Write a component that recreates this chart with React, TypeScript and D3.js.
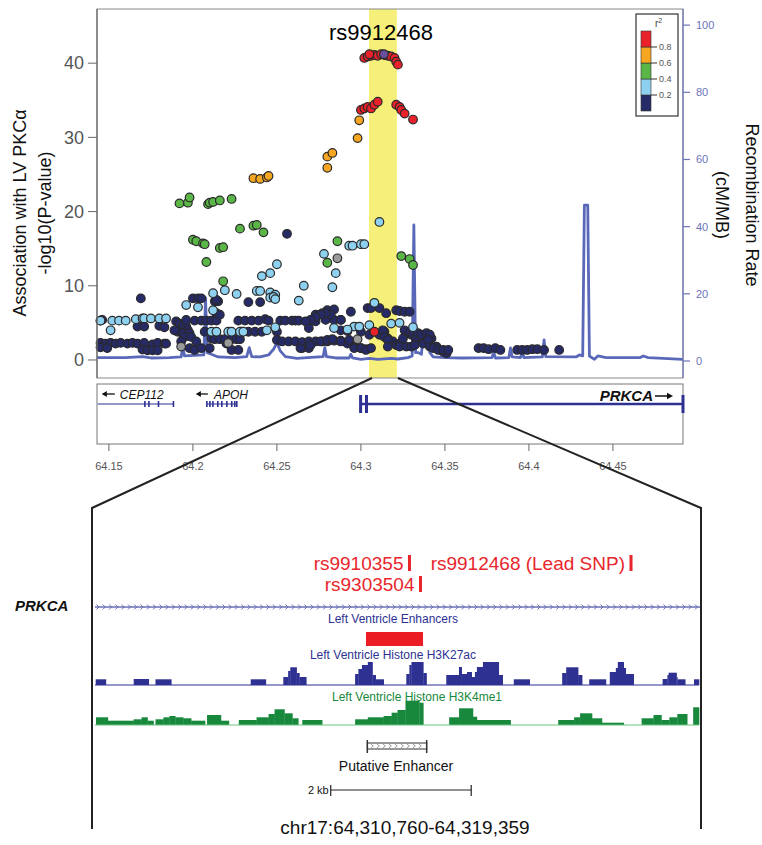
import * as d3 from "d3";

const FONT = "'Liberation Sans', Arial, Helvetica, sans-serif";

// ---- top panel: association results, grouped by LD (r2) bin  [position Mb, -log10 P]
const navySnps: [number, number][] = [
  [64.145, 5.3], [64.146, 5.4], [64.167, 4.5], [64.171, 4.5], [64.18, 4.6], [64.183, 4.4],
  [64.145, 2.3], [64.148, 2.2], [64.151, 2.3], [64.154, 2.2], [64.157, 2.3], [64.161, 2.2],
  [64.164, 2.3], [64.167, 2.2], [64.171, 2.3], [64.176, 2.1], [64.179, 2.3], [64.183, 2.2],
  [64.145, 1.7], [64.149, 1.6], [64.17, 1.4], [64.173, 1.3], [64.176, 1.3], [64.179, 1.3],
  [64.184, 2.2], [64.169, 8.3],
  [64.19, 5.2], [64.192, 4.9], [64.194, 4.7], [64.196, 4.5], [64.197, 4.0], [64.191, 3.8],
  [64.194, 3.6], [64.198, 3.6], [64.189, 4.0], [64.195, 3.1], [64.199, 3.1], [64.193, 2.5],
  [64.198, 1.6], [64.201, 1.35], [64.202, 2.5], [64.196, 5.4],
  [64.201, 5.3], [64.205, 5.3], [64.208, 5.3], [64.211, 5.3], [64.214, 5.3], [64.207, 3.8],
  [64.205, 1.6], [64.21, 1.6], [64.211, 2.9], [64.213, 2.8], [64.216, 2.8], [64.214, 6.3],
  [64.216, 6.1], [64.213, 7.9], [64.215, 7.9], [64.214, 8.1], [64.2, 8.3], [64.203, 8.3],
  [64.205, 8.3], [64.22, 2.2], [64.223, 1.35], [64.227, 1.35], [64.219, 2.8], [64.223, 2.8],
  [64.226, 2.8], [64.228, 2.8],
  [64.227, 5.3], [64.231, 5.3], [64.235, 5.3], [64.239, 5.3], [64.243, 5.5], [64.229, 3.8],
  [64.233, 3.8], [64.237, 3.8], [64.241, 3.8], [64.233, 7.8], [64.24, 7.8], [64.245, 5.3],
  [64.25, 3.8], [64.252, 5.3], [64.255, 5.3], [64.259, 5.3], [64.261, 5.3], [64.263, 5.3],
  [64.25, 2.7], [64.253, 2.5], [64.257, 2.5], [64.261, 2.5], [64.265, 1.6], [64.269, 1.6],
  [64.256, 17.0],
  [64.269, 4.3], [64.273, 5.2], [64.279, 5.4], [64.284, 5.4], [64.288, 5.4], [64.273, 6.1],
  [64.277, 6.3], [64.28, 6.7], [64.284, 6.8], [64.265, 2.4], [64.269, 2.5], [64.273, 2.5],
  [64.277, 2.5], [64.28, 2.5], [64.284, 2.6], [64.288, 2.6], [64.288, 4.0], [64.294, 6.5],
  [64.292, 2.2], [64.296, 1.8], [64.3, 1.6], [64.303, 1.45], [64.292, 3.9], [64.3, 3.8],
  [64.304, 7.0], [64.306, 7.0], [64.311, 7.0], [64.315, 6.3], [64.321, 6.7], [64.323, 6.6],
  [64.326, 6.5], [64.329, 6.5],
  [64.288, 5.4], [64.282, 6.1], [64.279, 6.3], [64.276, 6.1], [64.273, 5.8], [64.27, 5.4],
  [64.267, 5.2],
  [64.305, 3.4], [64.311, 3.4], [64.314, 3.8], [64.316, 2.9], [64.319, 2.5], [64.321, 2.0],
  [64.323, 2.2], [64.327, 3.6], [64.33, 3.4], [64.333, 2.7], [64.336, 3.1], [64.339, 2.5],
  [64.342, 2.9], [64.345, 1.8], [64.349, 1.1], [64.351, 0.9],
  [64.264, 1.6], [64.27, 2.0], [64.276, 2.5], [64.28, 2.7], [64.283, 2.8], [64.288, 2.5],
  [64.293, 2.7], [64.296, 1.6], [64.3, 1.6], [64.303, 1.35], [64.306, 1.6],
  [64.313, 4.0], [64.314, 3.1], [64.316, 2.7], [64.316, 1.8], [64.326, 4.0], [64.329, 3.8],
  [64.331, 3.4], [64.333, 3.1], [64.334, 3.6], [64.336, 3.4], [64.339, 3.6], [64.341, 3.4],
  [64.325, 2.9], [64.323, 1.8], [64.327, 1.8], [64.33, 1.8], [64.332, 2.0], [64.337, 2.2],
  [64.34, 2.7], [64.341, 1.8], [64.343, 1.6], [64.346, 1.35], [64.349, 1.35], [64.352, 1.35],
  [64.37, 1.6], [64.373, 1.6], [64.376, 1.45], [64.38, 1.6], [64.383, 1.35], [64.393, 1.35],
  [64.396, 1.35], [64.399, 1.35], [64.402, 1.45], [64.405, 1.45], [64.409, 1.35], [64.418, 1.35],
];

const lightBlueSnps: [number, number][] = [
  [64.311, 18.6], [64.293, 15.4], [64.295, 15.4], [64.3, 15.6], [64.302, 15.6],
  [64.278, 14.3], [64.285, 11.7], [64.283, 9.8], [64.25, 12.9], [64.246, 11.7], [64.241, 11.3],
  [64.266, 10.0], [64.263, 8.0], [64.238, 9.3], [64.24, 9.3], [64.246, 9.1], [64.249, 8.8],
  [64.246, 8.4], [64.248, 8.5], [64.249, 8.2], [64.226, 8.9], [64.219, 9.4], [64.212, 9.0],
  [64.196, 7.4], [64.203, 7.1], [64.212, 6.7],
  [64.145, 5.3], [64.152, 5.3], [64.156, 5.3], [64.16, 5.3], [64.166, 5.5], [64.17, 5.6],
  [64.171, 5.6], [64.175, 5.6], [64.18, 5.6], [64.184, 5.6], [64.151, 4.0],
  [64.308, 7.7], [64.296, 4.5], [64.299, 4.5], [64.305, 4.7], [64.318, 4.9], [64.323, 5.0],
  [64.331, 4.4], [64.284, 4.3], [64.211, 3.8], [64.214, 3.8], [64.221, 3.8], [64.223, 3.8],
  [64.228, 3.8], [64.23, 3.8], [64.244, 4.0], [64.249, 4.4], [64.292, 4.1],
];

const greenSnps: [number, number][] = [
  [64.192, 21.1], [64.197, 21.2], [64.198, 21.9], [64.209, 21.0], [64.21, 21.2], [64.212, 21.3],
  [64.216, 21.5], [64.223, 21.7], [64.228, 17.7], [64.236, 18.1], [64.238, 18.2], [64.242, 17.2],
  [64.286, 16.0], [64.2, 16.2], [64.202, 16.0], [64.206, 15.7], [64.207, 15.6], [64.216, 15.1],
  [64.218, 15.2], [64.208, 13.2], [64.218, 10.6], [64.28, 13.1], [64.324, 14.0], [64.329, 13.6],
  [64.331, 12.8],
];

const orangeSnps: [number, number][] = [
  [64.28, 27.4], [64.283, 27.9], [64.28, 25.9], [64.236, 24.5], [64.24, 24.4], [64.244, 24.6],
  [64.245, 24.8], [64.299, 32.3], [64.298, 29.9],
];

const redSnps: [number, number][] = [
  [64.302, 40.7], [64.304, 40.9], [64.306, 41.0], [64.308, 41.1], [64.31, 41.0], [64.312, 41.2],
  [64.314, 41.1], [64.316, 41.0], [64.318, 40.9], [64.32, 40.7], [64.321, 40.2], [64.322, 39.8],
  [64.305, 41.2],
  [64.3, 33.7], [64.302, 33.9], [64.304, 34.1], [64.306, 33.9], [64.308, 34.4], [64.31, 34.8],
  [64.321, 34.4], [64.323, 34.1], [64.324, 33.7], [64.326, 33.2], [64.331, 32.4], [64.308, 3.8],
];

const greySnps: [number, number][] = [[64.286, 13.7], [64.193, 1.8], [64.221, 2.3], [64.298, 2.8]];
const leadSnp: [number, number][] = [[64.3137, 41.2]];

// recombination rate (cM/Mb) along the locus
const recombRate: [number, number][] = [
  [64.143, 1.0], [64.16, 1.0], [64.17, 1.3], [64.175, 0.9], [64.186, 1.0], [64.193, 1.2],
  [64.194, 4.3], [64.195, 1.5], [64.2065, 1.8], [64.2075, 18.8], [64.2085, 2.5], [64.211, 2.0],
  [64.215, 1.2], [64.225, 1.0], [64.232, 1.3], [64.2335, 4.0], [64.235, 1.3], [64.24, 1.2],
  [64.245, 1.8], [64.248, 3.5], [64.25, 5.4], [64.252, 3.0], [64.255, 1.3], [64.262, 0.8],
  [64.268, 1.0], [64.2775, 1.3], [64.2785, 4.0], [64.2795, 1.3], [64.285, 0.9], [64.293, 0.9],
  [64.294, 2.0], [64.295, 0.9], [64.3, 0.5], [64.305, 0.8], [64.31, 0.5], [64.318, 0.8],
  [64.322, 0.6], [64.328, 1.0], [64.3305, 1.5], [64.3315, 40.5], [64.3325, 2.5], [64.334, 2.5],
  [64.336, 2.0], [64.337, 7.7], [64.339, 7.5], [64.34, 9.2], [64.341, 2.5], [64.343, 1.2],
  [64.35, 1.0], [64.36, 0.9], [64.378, 1.0], [64.379, 2.7], [64.38, 0.9], [64.388, 1.0],
  [64.389, 3.9], [64.39, 1.2], [64.395, 1.0], [64.396, 3.0], [64.397, 1.0], [64.408, 1.2],
  [64.409, 6.3], [64.41, 1.3], [64.428, 1.2], [64.43, 1.8], [64.432, 1.5], [64.433, 46.4],
  [64.435, 46.4], [64.436, 1.5], [64.439, 0.5], [64.441, 1.5], [64.446, 1.0], [64.466, 1.0],
  [64.468, 1.5], [64.471, 1.0], [64.4917, 0.5],
];

const xTicks = [64.15, 64.2, 64.25, 64.3, 64.35, 64.4, 64.45];
const yTicks = [0, 10, 20, 30, 40];
const recTicks = [0, 20, 40, 60, 80, 100];
const ldBreaks = [0.2, 0.4, 0.6, 0.8];
const ldColors = ["#262a66", "#8dd0f0", "#5bb648", "#f7a622", "#e8212b"]; // low -> high r2
const highlight = [64.3048, 64.3214];

const genes = [
  { name: "CEP112", start: 64.1434, end: 64.1887, strand: -1, exons: [64.1714, 64.1738, 64.1795, 64.1884] },
  { name: "APOH", start: 64.2083, end: 64.2261, strand: -1,
    exons: [64.2083, 64.2101, 64.2119, 64.2148, 64.2172, 64.2202, 64.2231, 64.2249, 64.2261] },
  { name: "PRKCA", start: 64.2998, end: 64.4917, strand: 1, exons: [64.2998, 64.3033, 64.4917] },
];

// ---- bottom panel: zoomed enhancer region
const REGION_START = 64310760;
const REGION_END = 64319359;

const regionSnps = [
  { label: "rs9910355", pos: 64315237, row: 0 },
  { label: "rs9303504", pos: 64315394, row: 1 },
  { label: "rs9912468 (Lead SNP)", pos: 64318391, row: 0 },
];
const lvEnhancer = [64314618, 64315430];
const putativeEnhancer = [64314637, 64315482];
const scaleBar = [64314116, 64316116];

// [start kb, end kb, signal] relative to REGION_START
const h3k27ac: [number, number, number][] = [
  [0.01, 0.155, 5.7], [0.551, 0.765, 6], [0.861, 1.086, 5.7], [2.217, 2.432, 5.7],
  [2.681, 2.75, 8], [2.75, 2.78, 14], [2.78, 2.87, 17.7], [2.87, 2.91, 12], [2.91, 3.008, 8],
  [3.703, 3.75, 11], [3.75, 3.8, 16], [3.8, 3.884, 20], [3.884, 3.951, 23], [3.951, 3.996, 10],
  [3.996, 4.11, 5.7], [4.432, 4.476, 11], [4.476, 4.505, 20], [4.505, 4.674, 23], [4.674, 4.72, 12],
  [5.001, 5.182, 10], [5.182, 5.22, 18], [5.22, 5.296, 11], [5.296, 5.363, 13], [5.363, 5.409, 8],
  [5.409, 5.437, 13], [5.437, 5.523, 18], [5.523, 5.748, 23], [5.748, 5.804, 10],
  [5.962, 6.189, 5.7], [6.651, 6.708, 12], [6.708, 6.878, 17.7], [6.878, 6.935, 10],
  [7.036, 7.274, 5.7], [7.329, 7.415, 13], [7.415, 7.443, 17], [7.443, 7.527, 23],
  [7.527, 7.556, 17], [7.556, 7.669, 11], [8.081, 8.149, 6], [8.149, 8.166, 10],
  [8.166, 8.279, 12.3], [8.279, 8.29, 8], [8.29, 8.403, 5.7], [8.528, 8.599, 5.7],
];

const h3k4me1: [number, number, number][] = [
  [0.014, 0.183, 7.7], [0.183, 0.55, 4.3], [0.55, 0.663, 5.7], [0.663, 0.748, 7.7], [0.748, 0.833, 4.3],
  [0.861, 0.974, 5.7], [0.974, 1.059, 7.7], [1.059, 1.143, 9], [1.143, 1.256, 7.7], [1.256, 1.369, 6.7],
  [1.369, 1.567, 4.3], [1.595, 1.793, 10], [1.793, 1.906, 4.3], [2.047, 2.3, 5], [2.3, 2.471, 7.7],
  [2.471, 2.556, 11], [2.556, 2.697, 15.7], [2.697, 2.81, 11.7], [2.81, 2.894, 6.7], [2.951, 3.234, 5],
  [3.703, 3.884, 5.7], [3.884, 4.109, 7.7], [4.109, 4.223, 9], [4.223, 4.307, 12.3], [4.307, 4.42, 15],
  [4.42, 4.618, 24.3], [4.618, 4.674, 22.3], [5.042, 5.183, 7.7], [5.183, 5.381, 16.7],
  [5.381, 5.437, 8.3], [5.437, 5.917, 5], [6.595, 6.821, 5], [6.821, 6.906, 7.7], [6.906, 7.076, 11.7],
  [7.076, 7.217, 6.7], [7.217, 7.528, 2.3], [7.782, 7.951, 6.7], [7.951, 8.064, 10], [8.064, 8.177, 5],
  [8.177, 8.29, 7.7], [8.29, 8.431, 11], [8.516, 8.599, 17.7],
];

const NAVY = "#2e3192";
const GREEN = "#17883c";
const REC_BLUE = "#5a68ba";
const AXIS_BLUE = "#6b74b8";

function Dots({ data, color, x, y }: any) {
  return (
    <g>
      {data.map((d: [number, number], i: number) => (
        <circle key={i} cx={x(d[0])} cy={y(d[1])} r={4.3} fill={color} stroke="#2a2a2a" strokeWidth={1.2} />
      ))}
    </g>
  );
}

export default function App() {
  // scales
  const x = d3.scaleLinear().domain([64.1429, 64.4917]).range([97, 683]);
  const y = d3.scaleLinear().domain([-2.43, 47.3]).range([378, 9]);
  const yRec = d3.scaleLinear().domain([-5.06, 104.8]).range([378, 9]);
  const ldScale = d3.scaleLinear().domain([0, 1]).range([111, 31]);
  const xLow = d3.scaleLinear().domain([REGION_START, REGION_END]).range([95, 699]);
  const yK27 = d3.scaleLinear().domain([0, 25]).range([685, 660]);
  const yK4 = d3.scaleLinear().domain([0, 25]).range([725, 700]);
  const kb = (k: number) => xLow(REGION_START + k * 1000);

  const recPath = d3.line<[number, number]>().x((d) => x(d[0])).y((d) => yRec(d[1]))(recombRate) || "";
  const fmt = d3.format(",");
  const ldLevels = d3.range(5);

  const bandL = x(highlight[0]);
  const bandR = x(highlight[1]);

  return (
    <svg width={762} height={845} style={{ position: "absolute", left: 0, top: 0 }} fontFamily={FONT}>
      <rect width={762} height={845} fill="white" />

      {/* highlighted region */}
      <rect x={bandL} y={9} width={bandR - bandL} height={369} fill="#f6f07a" />

      {/* recombination rate */}
      <path d={recPath} fill="none" stroke={REC_BLUE} strokeWidth={2.8} strokeLinejoin="round" />

      {/* snps */}
      <Dots data={navySnps} color={ldColors[0]} x={x} y={y} />
      <Dots data={greySnps} color="#9a9a9a" x={x} y={y} />
      <Dots data={lightBlueSnps} color={ldColors[1]} x={x} y={y} />
      <Dots data={greenSnps} color={ldColors[2]} x={x} y={y} />
      <Dots data={orangeSnps} color={ldColors[3]} x={x} y={y} />
      <Dots data={redSnps} color={ldColors[4]} x={x} y={y} />
      <Dots data={leadSnp} color="#6a4f9e" x={x} y={y} />

      {/* frame */}
      <rect x={97} y={9} width={586} height={369} fill="none" stroke="#8a8a8a" strokeWidth={1} />
      <line x1={97} x2={97} y1={9} y2={378} stroke="#555" strokeWidth={1} />
      <line x1={683} x2={683} y1={9} y2={378} stroke={AXIS_BLUE} strokeWidth={1.2} />

      {/* left axis */}
      {yTicks.map((t) => (
        <g key={t}>
          <line x1={88} x2={97} y1={y(t)} y2={y(t)} stroke="#666" />
          <text x={84} y={y(t)} dy="0.35em" textAnchor="end" fontSize={18} fill="#555">{t}</text>
        </g>
      ))}
      <text transform="translate(20,213) rotate(-90)" textAnchor="middle" dy="0.35em" fontSize={18} fill="#111">
        Association with LV PKCα
      </text>
      <text transform="translate(45,213) rotate(-90)" textAnchor="middle" dy="0.35em" fontSize={18} fill="#111">
        -log10(P-value)
      </text>

      {/* right axis */}
      {recTicks.map((t) => (
        <g key={t}>
          <line x1={683} x2={690} y1={yRec(t)} y2={yRec(t)} stroke={AXIS_BLUE} strokeWidth={1.2} />
          <text x={696} y={yRec(t)} dy="0.35em" fontSize={11} fill={AXIS_BLUE}>{t}</text>
        </g>
      ))}
      <text transform="translate(752,205) rotate(90)" textAnchor="middle" dy="0.35em" fontSize={18} fill="#111">
        Recombination Rate
      </text>
      <text transform="translate(722,205) rotate(90)" textAnchor="middle" dy="0.35em" fontSize={18} fill="#111">
        (cM/MB)
      </text>

      {/* title */}
      <text x={381} y={40} textAnchor="middle" fontSize={22} fill="#000">rs9912468</text>

      {/* LD legend */}
      <rect x={636} y={14} width={42} height={102} fill="white" stroke="#333" strokeWidth={1.2} />
      <text x={655} y={27} fontSize={10} fill="#444">
        r<tspan dy={-4} fontSize={7}>2</tspan>
      </text>
      {ldLevels.map((i) => (
        <rect key={i} x={641} width={10} y={ldScale((i + 1) / 5)} height={ldScale(i / 5) - ldScale((i + 1) / 5)}
          fill={ldColors[i]} stroke="#333" strokeWidth={0.6} />
      ))}
      {ldBreaks.map((b) => (
        <g key={b}>
          <line x1={651} x2={657} y1={ldScale(b)} y2={ldScale(b)} stroke="#333" />
          <text x={659} y={ldScale(b)} dy="0.35em" fontSize={9} fill="#555">{b}</text>
        </g>
      ))}

      {/* gene track */}
      <rect x={97} y={384} width={586} height={60} fill="none" stroke="#777" strokeWidth={1} />
      {genes.map((g) => {
        const big = g.name === "PRKCA";
        const gy = 404;
        return (
          <g key={g.name}>
            <line x1={x(g.start)} x2={x(g.end)} y1={gy} y2={gy} stroke={NAVY} strokeWidth={big ? 2.6 : 1} />
            {g.exons.map((e, i) => (
              <rect key={i} x={x(e) - (big ? 1.5 : 0.8)} width={big ? 3 : 1.6} y={big ? gy - 9 : gy - 3}
                height={big ? 18 : 6} fill={NAVY} />
            ))}
          </g>
        );
      })}
      {/* gene labels with strand arrows */}
      <g fontStyle="italic" fill="#111">
        <path d={`M${x(genes[0].start) + 17},394 H${x(genes[0].start) + 5}`} stroke="#111" strokeWidth={1.3} />
        <path d={`M${x(genes[0].start) + 4},394 l5,-3 v6 z`} fill="#111" />
        <text x={x(genes[0].start) + 22} y={399} fontSize={12}>{genes[0].name}</text>
        <path d={`M${x(genes[1].start) + 1},394 H${x(genes[1].start) - 10}`} stroke="#111" strokeWidth={1.3} />
        <path d={`M${x(genes[1].start) - 11},394 l5,-3 v6 z`} fill="#111" />
        <text x={x(genes[1].start) + 7} y={399} fontSize={12}>{genes[1].name}</text>
        <text x={x(genes[2].end) - 30} y={401} fontSize={15} fontWeight="bold" textAnchor="end">{genes[2].name}</text>
        <path d={`M${x(genes[2].end) - 28},396 H${x(genes[2].end) - 14}`} stroke="#111" strokeWidth={1.5} />
        <path d={`M${x(genes[2].end) - 10},396 l-6,-3.2 v6.4 z`} fill="#111" />
      </g>

      {/* x axis */}
      {xTicks.map((t) => (
        <g key={t}>
          <line x1={x(t)} x2={x(t)} y1={444} y2={451} stroke="#666" />
          <text x={x(t)} y={470} textAnchor="middle" fontSize={11} fill="#555">{String(t)}</text>
        </g>
      ))}

      {/* zoom connector */}
      <line x1={bandL + 3} y1={378} x2={92} y2={508} stroke="#222" strokeWidth={2} />
      <line x1={bandR + 1} y1={378} x2={701} y2={508} stroke="#222" strokeWidth={2} />
      <line x1={92} y1={507} x2={92} y2={829} stroke="#222" strokeWidth={2} />
      <line x1={701} y1={507} x2={701} y2={829} stroke="#222" strokeWidth={2} />

      {/* bottom panel: snps */}
      {regionSnps.map((s) => {
        const base = s.row === 0 ? 570 : 591;
        return (
          <g key={s.label}>
            <text x={xLow(s.pos) - 6} y={base} textAnchor="end" fontSize={19} fill="#e8262c">{s.label}</text>
            <rect x={xLow(s.pos) - 1.5} y={base - 15} width={3} height={16} fill="#e8262c" />
          </g>
        );
      })}

      {/* PRKCA transcript */}
      <text x={15} y={611} fontSize={15} fontWeight="bold" fontStyle="italic" fill="#111">PRKCA</text>
      <line x1={xLow(REGION_START)} x2={xLow(REGION_END) + 1} y1={607} y2={607} stroke="#6a6fb5" strokeWidth={1.4} />
      <path
        d={d3.range(xLow(REGION_START) + 3, xLow(REGION_END), 6.3).map((cx) => `M${cx - 1.5},604.5 L${cx + 1},607 L${cx - 1.5},609.5`).join(" ")}
        fill="none" stroke="#6a6fb5" strokeWidth={1}
      />

      {/* enhancer track */}
      <text x={393} y={623} textAnchor="middle" fontSize={12} fill={NAVY}>Left Ventricle Enhancers</text>
      <rect x={xLow(lvEnhancer[0])} width={xLow(lvEnhancer[1]) - xLow(lvEnhancer[0])} y={632} height={14} fill="#ec1c24" />

      {/* H3K27ac */}
      <text x={393} y={659} textAnchor="middle" fontSize={12} fill={NAVY}>Left Ventricle Histone H3K27ac</text>
      {h3k27ac.map((b, i) => (
        <rect key={i} x={kb(b[0])} width={kb(b[1]) - kb(b[0]) + 0.3} y={yK27(b[2])} height={yK27(0) - yK27(b[2])} fill={NAVY} />
      ))}
      <line x1={xLow(REGION_START)} x2={xLow(REGION_END)} y1={685} y2={685} stroke={NAVY} strokeWidth={1.2} />

      {/* H3K4me1 */}
      <text x={417} y={701} textAnchor="middle" fontSize={12} fill={GREEN}>Left Ventricle Histone H3K4me1</text>
      {h3k4me1.map((b, i) => (
        <rect key={i} x={kb(b[0])} width={kb(b[1]) - kb(b[0]) + 0.3} y={yK4(b[2])} height={yK4(0) - yK4(b[2])} fill={GREEN} />
      ))}
      <line x1={xLow(REGION_START)} x2={xLow(REGION_END)} y1={725} y2={725} stroke="#6cc27f" strokeWidth={1} />

      {/* putative enhancer */}
      <g>
        <rect x={xLow(putativeEnhancer[0])} y={743} width={xLow(putativeEnhancer[1]) - xLow(putativeEnhancer[0])} height={6}
          fill="white" stroke="#333" strokeWidth={1} />
        <path
          d={d3.range(xLow(putativeEnhancer[0]) + 5, xLow(putativeEnhancer[1]) - 3, 6).map((cx) => `M${cx - 1.5},744 L${cx + 1},746 L${cx - 1.5},748`).join(" ")}
          fill="none" stroke="#888" strokeWidth={0.8}
        />
        <line x1={xLow(putativeEnhancer[0])} x2={xLow(putativeEnhancer[0])} y1={740} y2={753} stroke="#333" strokeWidth={1.5} />
        <line x1={xLow(putativeEnhancer[1])} x2={xLow(putativeEnhancer[1])} y1={740} y2={753} stroke="#333" strokeWidth={1.5} />
      </g>
      <text x={396} y={771} textAnchor="middle" fontSize={14} fill="#111">Putative Enhancer</text>

      {/* scale bar */}
      <text x={xLow(scaleBar[0]) - 2} y={794} textAnchor="end" fontSize={11} fill="#111">2 kb</text>
      <line x1={xLow(scaleBar[0])} x2={xLow(scaleBar[1])} y1={790} y2={790} stroke="#222" strokeWidth={1.2} />
      <line x1={xLow(scaleBar[0])} x2={xLow(scaleBar[0])} y1={785} y2={796} stroke="#222" strokeWidth={1.2} />
      <line x1={xLow(scaleBar[1])} x2={xLow(scaleBar[1])} y1={785} y2={796} stroke="#222" strokeWidth={1.2} />

      <text x={405} y={834} textAnchor="middle" fontSize={19} fill="#111">
        {`chr17:${fmt(REGION_START)}-${fmt(REGION_END)}`}
      </text>
    </svg>
  );
}
